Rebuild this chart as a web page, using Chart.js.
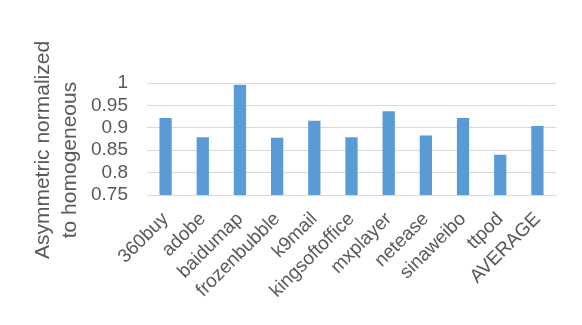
<!DOCTYPE html>
<html lang="en">
<head>
    <meta charset="UTF-8">
    <title>Asymmetric normalized to homogeneous</title>
    <script src="https://cdn.jsdelivr.net/npm/chart.js"></script>
    <style>
        body { margin: 0; background: #fff; }
        #wrap { width: 582px; height: 325px; }
    </style>
</head>
<body>
<div id="wrap"><canvas id="chart" width="582" height="325"></canvas></div>
<script>
    // data
    const apps = ['360buy', 'adobe', 'baidumap', 'frozenbubble', 'k9mail', 'kingsoftoffice',
        'mxplayer', 'netease', 'sinaweibo', 'ttpod', 'AVERAGE'];
    const ratios = [0.922, 0.879, 0.996, 0.878, 0.916, 0.879, 0.937, 0.883, 0.922, 0.840, 0.904];
    const yTicks = [0.75, 0.8, 0.85, 0.9, 0.95, 1];
    const yTitle = ['Asymmetric normalized', 'to homogeneous'];

    const grey = '#595959';
    const font = 'Liberation Sans, Arial, sans-serif';

    // Excel-style two line axis title, each line centred on its own
    const yTitlePlugin = {
        id: 'yTitle',
        afterDraw(chart) {
            const c = chart.ctx;
            const spots = [[43, 150], [70, 160]];
            c.save();
            c.fillStyle = grey;
            c.font = '21px ' + font;
            c.textAlign = 'center';
            c.textBaseline = 'middle';
            yTitle.forEach((line, i) => {
                c.save();
                c.translate(spots[i][0], spots[i][1]);
                c.rotate(-Math.PI / 2);
                c.fillText(line, 0, 0);
                c.restore();
            });
            c.restore();
        }
    };

    const ctx = document.getElementById('chart').getContext('2d');
    new Chart(ctx, {
        type: 'bar',
        data: {
            labels: apps,
            datasets: [{
                data: ratios,
                backgroundColor: '#5b9bd5',
                categoryPercentage: 1,
                barPercentage: 0.33
            }]
        },
        options: {
            responsive: false,
            animation: false,
            layout: { padding: { top: 83, right: 26, left: 0, bottom: 0 } },
            plugins: { legend: { display: false }, tooltip: { enabled: false } },
            scales: {
                x: {
                    grid: { display: false },
                    border: { color: '#d9d9d9' },
                    ticks: {
                        color: grey,
                        font: { family: font, size: 19 },
                        minRotation: 45,
                        maxRotation: 45,
                        autoSkip: false,
                        padding: 5
                    },
                    afterFit: axis => { axis.height = 130; }
                },
                y: {
                    min: 0.75,
                    max: 1,
                    afterBuildTicks: axis => { axis.ticks = yTicks.map(v => ({ value: v })); },
                    grid: { color: '#d9d9d9', drawTicks: false },
                    border: { display: false },
                    ticks: {
                        color: grey,
                        font: { family: font, size: 19 },
                        autoSkip: false,
                        padding: 19,
                        callback: v => String(v)
                    },
                    afterFit: axis => { axis.width = 147; }
                }
            }
        },
        plugins: [yTitlePlugin]
    });
</script>
</body>
</html>
